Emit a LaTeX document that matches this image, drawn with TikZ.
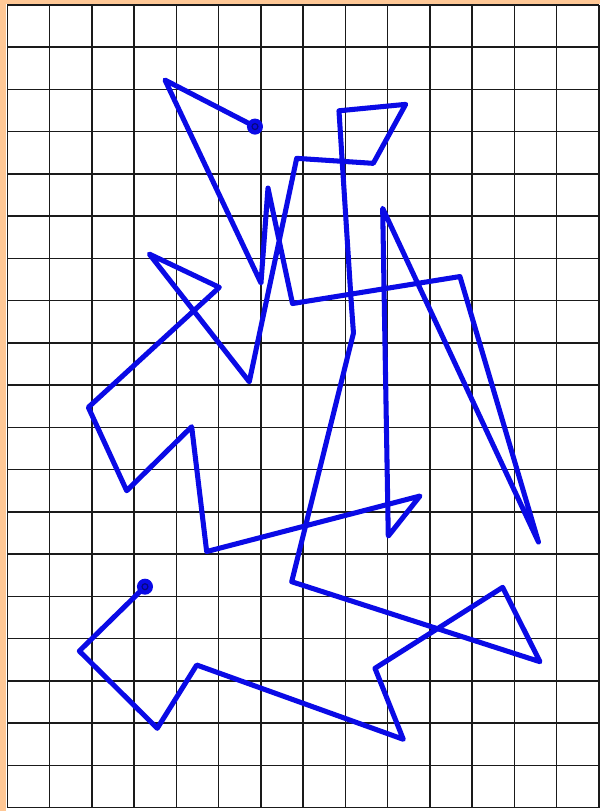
\documentclass[tikz,border=0pt]{standalone}
\usepackage{xcolor}
\usepackage{tikz}
\definecolor{paperorange}{HTML}{FFC896}
\definecolor{gridgray}{HTML}{1A1A1A}
\definecolor{trailblue}{HTML}{0A0AE6}
\tikzset{
  gridline/.style={draw=gridgray, line width=1.05pt},
  trail/.style={draw=trailblue, line width=3.4pt, line join=round, line cap=round},
  enddot/.style={fill=trailblue},
  dotring/.style={draw=trailblue!55!black, line width=0.8pt}
}

\begin{document}
\begin{tikzpicture}
  % page and margins
  \fill[paperorange] (-0.173,-0.078) rectangle (14.024,19.115);
  \fill[white] (-0.03,-0.078) rectangle (14.024,19.03);
  \useasboundingbox (-0.173,-0.078) rectangle (14.024,19.115);

  % squared paper
  \foreach \col in {0,...,14}
    \draw[gridline] (\col,0) -- (\col,19);
  \foreach \row in {0,...,19}
    \draw[gridline] (0,\row) -- (14,\row);

  % the walk
  \coordinate (walkstart) at (5.861,16.119);
  \coordinate (walkend) at (3.258,5.230);
  \draw[trail] (walkstart)
    -- (3.732,17.220) -- (6.003,12.416) -- (6.169,14.664) -- (6.749,11.931)
    -- (10.712,12.570) -- (12.570,6.287) -- (8.883,14.184) -- (9.016,6.429)
    -- (9.766,7.376) -- (4.718,6.062) -- (4.363,9.016) -- (2.825,7.501)
    -- (1.917,9.475) -- (5.017,12.314) -- (3.360,13.102) -- (5.726,10.080)
    -- (6.848,15.367) -- (8.661,15.249) -- (9.427,16.645) -- (7.849,16.493)
    -- (8.145,11.872) -- (8.192,11.233) -- (6.730,5.348) -- (12.605,3.455)
    -- (11.723,5.215) -- (8.701,3.299) -- (9.371,1.619) -- (4.482,3.377)
    -- (3.549,1.879) -- (1.704,3.708) -- (walkend);

  % end points
  \foreach \pt in {walkstart,walkend} {
    \fill[enddot] (\pt) circle (0.19);
    \draw[dotring] (\pt) circle (0.07);
  }
\end{tikzpicture}
\end{document}
